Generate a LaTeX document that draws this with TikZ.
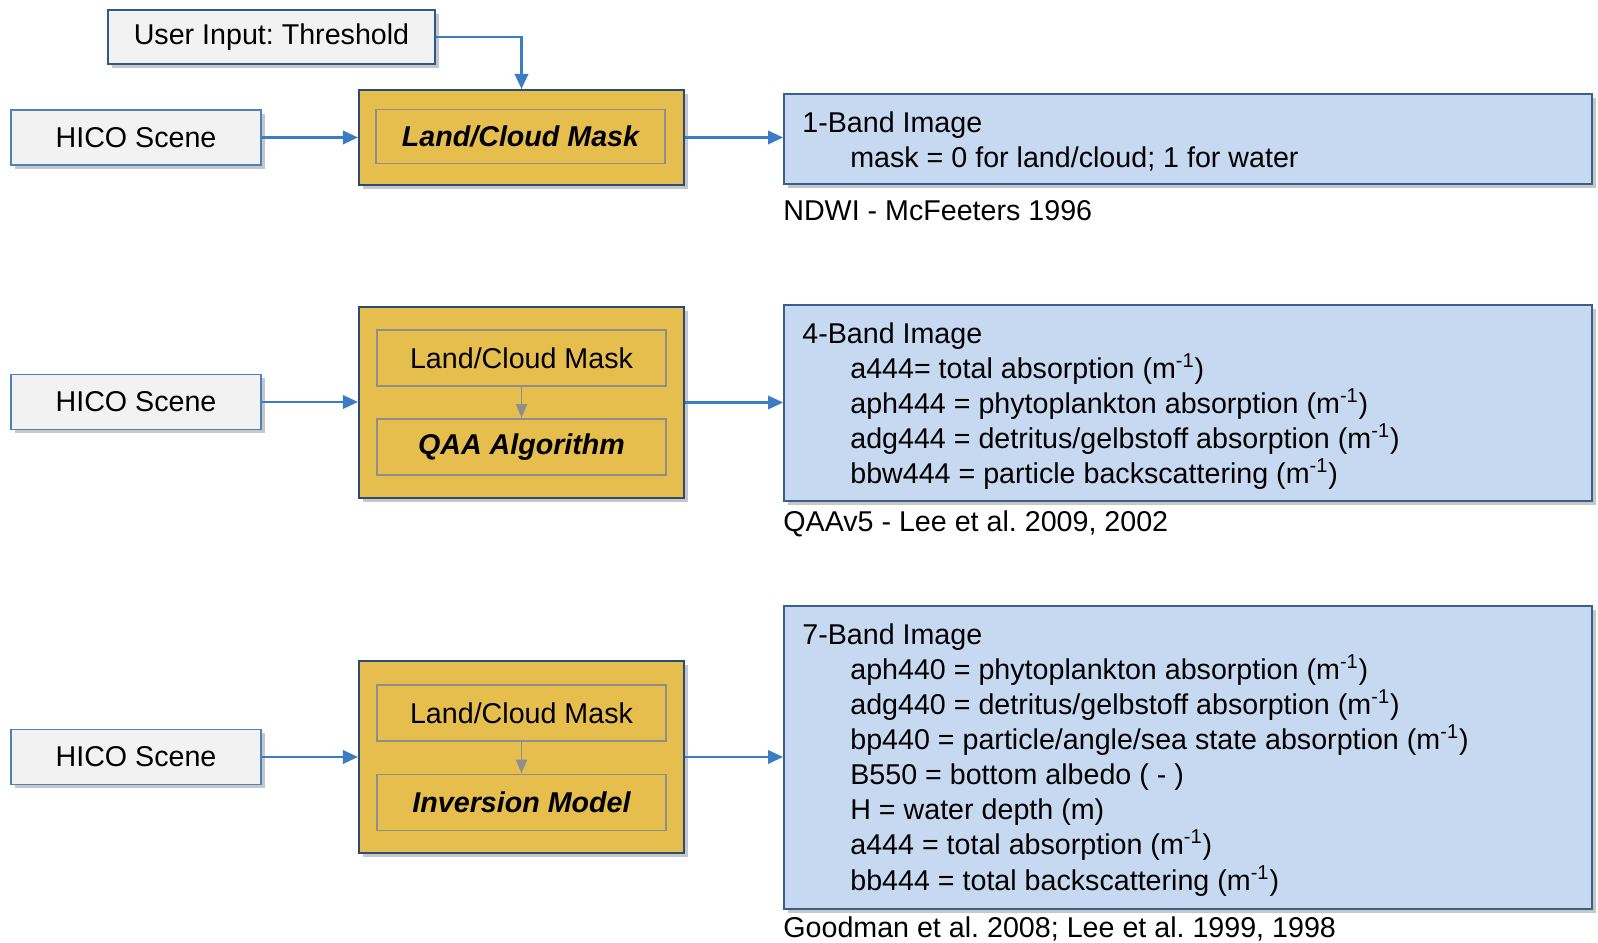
\documentclass[tikz,border=0pt]{standalone}
\usepackage{fontspec}
\setmainfont{Liberation Sans}
\usetikzlibrary{arrows.meta,shadows}
\definecolor{hicofill}{HTML}{F2F2F2}
\definecolor{hicoline}{HTML}{4F81BD}
\definecolor{userline}{HTML}{2B5A8E}
\definecolor{gold}{HTML}{E6BE4E}
\definecolor{goldline}{HTML}{2A4C78}
\definecolor{subline}{HTML}{8E8E8E}
\definecolor{imgfill}{HTML}{C6D9F0}
\definecolor{imgline}{HTML}{3A5F8B}
\definecolor{flowblue}{HTML}{3B7CC4}
\frenchspacing

\begin{document}
\begin{tikzpicture}[font=\fontsize{16.3}{20}\selectfont,
  shade/.style={drop shadow={shadow xshift=.08cm,shadow yshift=-.08cm,fill=black!55,opacity=.4}},
  inbox/.style={draw=hicoline,fill=hicofill,line width=1.1pt,minimum width=5cm,minimum height=1.1cm,shade},
  procbox/.style={draw=goldline,fill=gold,line width=1.2pt,minimum width=6.5cm,shade},
  subbox/.style={draw=subline,fill=gold,line width=1.1pt,minimum width=5.78cm,minimum height=1.12cm},
  outbox/.style={draw=imgline,fill=imgfill,line width=1.1pt,minimum width=16.16cm,anchor=north west,shade},
  outtext/.style={anchor=north west,align=left,inner sep=0pt},
  flow/.style={draw=flowblue,line width=1.2pt,-{Triangle[length=.3cm,width=.27cm]}},
  subflow/.style={draw=subline,line width=1.1pt,-{Triangle[length=.28cm,width=.22cm]}}]
\useasboundingbox (0,0) rectangle (31.96,18.86);

% row 1: land/cloud mask
\node[inbox,draw=userline,line width=1.3pt,minimum width=6.54cm,minimum height=1.08cm] (user) at (5.43,18.12) {User Input: Threshold};
\node[inbox] (hico1) at (2.72,16.11) {HICO Scene};
\node[procbox,minimum height=1.9cm] (step1) at (10.43,16.11) {};
\node[subbox,minimum height=1.08cm] (step1a) at (10.41,16.13) {\bfseries\itshape Land/Cloud Mask};
\node[outbox,minimum height=1.8cm] (img1) at (15.66,17.0) {};
\node[outtext] (img1txt) at (16.04,16.64) {1-Band Image\\
\hspace*{.96cm}mask = 0 for land/cloud; 1 for water};
\node[anchor=west,inner sep=0pt] (ref1) at (15.66,14.64) {NDWI - McFeeters 1996};
\draw[flow] (user.east) -| (step1.north);
\draw[flow] (hico1.east) -- (hico1.east -| step1.west);
\draw[flow] (step1.east) -- (step1.east -| img1.west);

% row 2: QAA
\node[inbox] (hico2) at (2.72,10.82) {HICO Scene};
\node[procbox,minimum height=3.82cm] (step2) at (10.43,10.81) {};
\node[subbox] (step2a) at (10.43,11.7) {Land/Cloud Mask};
\node[subbox] (step2b) at (10.43,9.92) {\bfseries\itshape QAA Algorithm};
\node[outbox,minimum height=3.92cm] (img2) at (15.66,12.78) {};
\node[outtext] (img2txt) at (16.04,12.42) {4-Band Image\\
\hspace*{.96cm}a444= total absorption (m\textsuperscript{-1})\\
\hspace*{.96cm}aph444 = phytoplankton absorption (m\textsuperscript{-1})\\
\hspace*{.96cm}adg444 = detritus/gelbstoff absorption (m\textsuperscript{-1})\\
\hspace*{.96cm}bbw444 = particle backscattering (m\textsuperscript{-1})};
\node[anchor=west,inner sep=0pt] (ref2) at (15.66,8.38) {QAAv5 - Lee et al. 2009, 2002};
\draw[flow] (hico2.east) -- (hico2.east -| step2.west);
\draw[subflow] (step2a) -- (step2b);
\draw[flow] (step2.east) -- (step2.east -| img2.west);

% row 3: inversion
\node[inbox] (hico3) at (2.72,3.72) {HICO Scene};
\node[procbox,minimum height=3.84cm] (step3) at (10.43,3.72) {};
\node[subbox] (step3a) at (10.43,4.6) {Land/Cloud Mask};
\node[subbox] (step3b) at (10.43,2.81) {\bfseries\itshape Inversion Model};
\node[outbox,minimum height=6.06cm] (img3) at (15.66,6.76) {};
\node[outtext] (img3txt) at (16.04,6.40) {7-Band Image\\
\hspace*{.96cm}aph440 = phytoplankton absorption (m\textsuperscript{-1})\\
\hspace*{.96cm}adg440 = detritus/gelbstoff absorption (m\textsuperscript{-1})\\
\hspace*{.96cm}bp440 = particle/angle/sea state absorption (m\textsuperscript{-1})\\
\hspace*{.96cm}B550 = bottom albedo ( - )\\
\hspace*{.96cm}H = water depth (m)\\
\hspace*{.96cm}a444 = total absorption (m\textsuperscript{-1})\\
\hspace*{.96cm}bb444 = total backscattering (m\textsuperscript{-1})};
\node[anchor=west,inner sep=0pt] (ref3) at (15.66,0.28) {Goodman et al. 2008; Lee et al. 1999, 1998};
\draw[flow] (hico3.east) -- (hico3.east -| step3.west);
\draw[subflow] (step3a) -- (step3b);
\draw[flow] (step3.east) -- (step3.east -| img3.west);
\end{tikzpicture}
\end{document}
